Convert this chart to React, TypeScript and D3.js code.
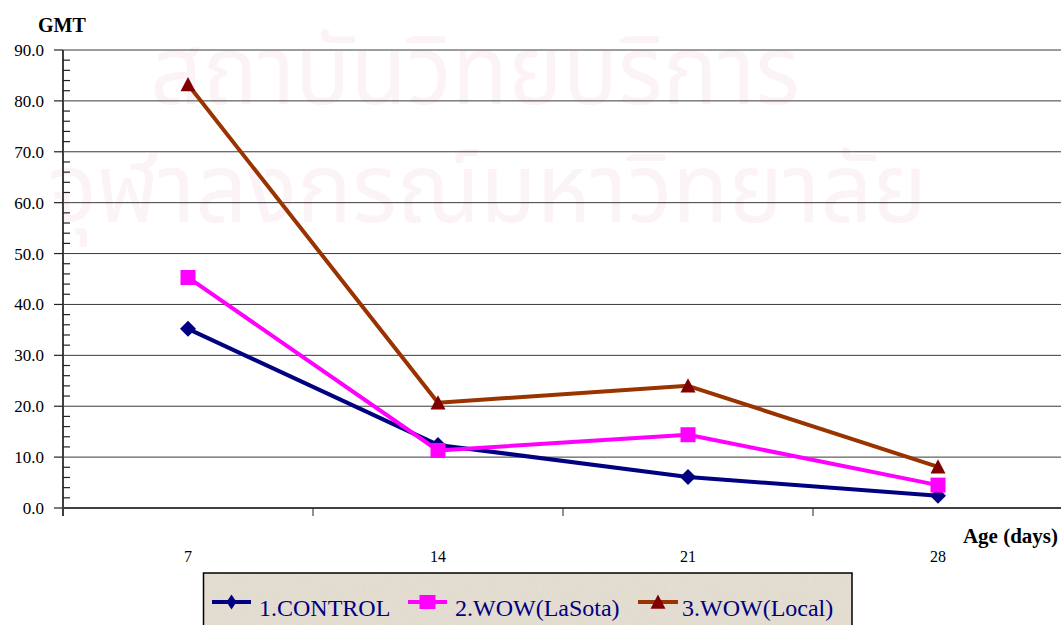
import React from 'react';
import * as d3 from 'd3';

// Age at sampling (days)
const ages = ['7', '14', '21', '28'];
// GMT values per group
const controlGmt = [35.2, 12.4, 6.1, 2.4];
const lasotaGmt = [45.3, 11.3, 14.4, 4.5];
const localGmt = [83.2, 20.7, 24.0, 8.1];
const seriesNames = ['1.CONTROL', '2.WOW(LaSota)', '3.WOW(Local)'];
const yTickValues = [0, 10, 20, 30, 40, 50, 60, 70, 80, 90];
const watermarkLines = ['สถาบันวิทยบริการ', 'จุฬาลงกรณ์มหาวิทยาลัย'];

type MarkerKind = 'diamond' | 'square' | 'triangle';

const series = [
  { name: seriesNames[0], values: controlGmt, line: '#000080', fill: '#000080', marker: 'diamond' as MarkerKind },
  { name: seriesNames[1], values: lasotaGmt, line: '#FF00FF', fill: '#FF00FF', marker: 'square' as MarkerKind },
  { name: seriesNames[2], values: localGmt, line: '#993300', fill: '#800000', marker: 'triangle' as MarkerKind },
];

const W = 1061;
const H = 625;
const plot = { left: 63, right: 1063, top: 50, bottom: 508 };
const serif = '"Liberation Serif", "Times New Roman", serif';

function markerPath(kind: MarkerKind, r: number): string {
  if (kind === 'diamond') return `M0,${-r}L${r},0L0,${r}L${-r},0Z`;
  if (kind === 'square') return `M${-r},${-r}H${r}V${r}H${-r}Z`;
  return `M0,${-r}L${r},${r * 0.9}L${-r},${r * 0.9}Z`;
}

export default function App() {
  const x = d3.scaleBand<string>().domain(ages).range([plot.left, plot.right]).padding(0);
  const y = d3.scaleLinear().domain([0, 90]).range([plot.bottom, plot.top]);
  const cx = (a: string) => (x(a) as number) + x.bandwidth() / 2;
  const lineGen = d3
    .line<number>()
    .x((_, i) => cx(ages[i]))
    .y((v) => y(v));
  const fmt = d3.format('.1f');
  const minorTicks = d3.range(0, 91, 2).filter((v) => v % 10 !== 0);
  const bandEdges = ages.slice(1).map((a) => x(a) as number);

  const legend = { x: 203.5, y: 573, w: 648.5, h: 60 };
  const legendItems = [
    { x0: 212, x1: 251, tx: 259 },
    { x0: 408, x1: 447, tx: 455 },
    { x0: 638, x1: 678, tx: 682 },
  ];

  return (
    <svg
      width={W}
      height={H}
      style={{ position: 'absolute', left: 0, top: 0, background: '#fff' }}
      xmlns="http://www.w3.org/2000/svg"
    >
      <defs>
        <filter id="grain" x="0" y="0" width="100%" height="100%">
          <feTurbulence type="fractalNoise" baseFrequency="0.9" numOctaves="2" seed="4" result="n" />
          <feColorMatrix
            in="n"
            type="matrix"
            values="0 0 0 0 0.55  0 0 0 0 0.5  0 0 0 0 0.42  0 0 0 -1.4 0.75"
          />
        </filter>
      </defs>

      {/* faint institutional watermark */}
      <g fill="#fcf3f6" fontFamily='"Noto Sans Thai", "Loma", "Garuda", "DejaVu Sans", sans-serif'>
        <text x={150} y={104} fontSize={96} textLength={650} lengthAdjust="spacingAndGlyphs">
          {watermarkLines[0]}
        </text>
        <text x={48} y={222} fontSize={96} textLength={879} lengthAdjust="spacingAndGlyphs">
          {watermarkLines[1]}
        </text>
      </g>

      {/* horizontal gridlines */}
      {yTickValues.map((v) => (
        <line key={`g${v}`} x1={plot.left} x2={W} y1={y(v)} y2={y(v)} stroke="#3a3a3a" strokeWidth={1} />
      ))}

      {/* y axis */}
      <line x1={plot.left} x2={plot.left} y1={plot.top} y2={plot.bottom + 8} stroke="#404040" strokeWidth={2} />
      {yTickValues.map((v) => (
        <line key={`mt${v}`} x1={plot.left - 9} x2={plot.left} y1={y(v)} y2={y(v)} stroke="#222" strokeWidth={1.2} />
      ))}
      {minorTicks.map((v) => (
        <line key={`mn${v}`} x1={plot.left} x2={plot.left + 7} y1={y(v)} y2={y(v)} stroke="#222" strokeWidth={1.2} />
      ))}
      {yTickValues.map((v) => (
        <text
          key={`yl${v}`}
          x={44}
          y={y(v)}
          dy="0.35em"
          textAnchor="end"
          fontFamily={serif}
          fontSize={17}
          fill="#000"
        >
          {fmt(v)}
        </text>
      ))}

      {/* x axis */}
      <line x1={plot.left} x2={W} y1={plot.bottom} y2={plot.bottom} stroke="#404040" strokeWidth={2} />
      {bandEdges.map((e, i) => (
        <line key={`xt${i}`} x1={e} x2={e} y1={plot.bottom} y2={plot.bottom + 8} stroke="#222" strokeWidth={1} />
      ))}
      {ages.map((a) => (
        <text key={`xl${a}`} x={cx(a)} y={562} textAnchor="middle" fontFamily={serif} fontSize={16} fill="#000">
          {a}
        </text>
      ))}

      {/* axis titles */}
      <text x={38} y={32} fontFamily={serif} fontSize={20} fontWeight="bold" fill="#000">
        GMT
      </text>
      <text x={1058} y={543} textAnchor="end" fontFamily={serif} fontSize={21} fontWeight="bold" fill="#000">
        Age (days)
      </text>

      {/* series */}
      {series.map((s) => (
        <g key={s.name}>
          <path d={lineGen(s.values) || ''} fill="none" stroke={s.line} strokeWidth={4} strokeLinejoin="round" />
          {s.values.map((v, i) => (
            <path
              key={i}
              d={markerPath(s.marker, s.marker === 'diamond' ? 8 : 7.5)}
              transform={`translate(${cx(ages[i])},${y(v)})`}
              fill={s.fill}
            />
          ))}
        </g>
      ))}

      {/* legend */}
      <rect x={legend.x} y={legend.y} width={legend.w} height={legend.h} fill="#e4ded2" />
      <rect x={legend.x} y={legend.y} width={legend.w} height={legend.h} filter="url(#grain)" opacity={0.35} />
      <rect
        x={legend.x}
        y={legend.y}
        width={legend.w}
        height={legend.h}
        fill="none"
        stroke="#000"
        strokeWidth={1.5}
      />
      {series.map((s, i) => {
        const it = legendItems[i];
        const my = 602;
        const mx = (it.x0 + it.x1) / 2;
        return (
          <g key={`lg${s.name}`}>
            <line x1={it.x0} x2={it.x1} y1={my} y2={my} stroke={s.line} strokeWidth={4} />
            <path
              d={
                s.marker === 'diamond'
                  ? `M0,-7.5L5,0L0,7.5L-5,0Z`
                  : s.marker === 'square'
                  ? `M-8,-7H8V7H-8Z`
                  : markerPath('triangle', 7.5)
              }
              transform={`translate(${mx},${my})`}
              fill={s.fill}
            />
            <text x={it.tx} y={615.5} fontFamily={serif} fontSize={24} fill="#000080">
              {s.name}
            </text>
          </g>
        );
      })}
    </svg>
  );
}
